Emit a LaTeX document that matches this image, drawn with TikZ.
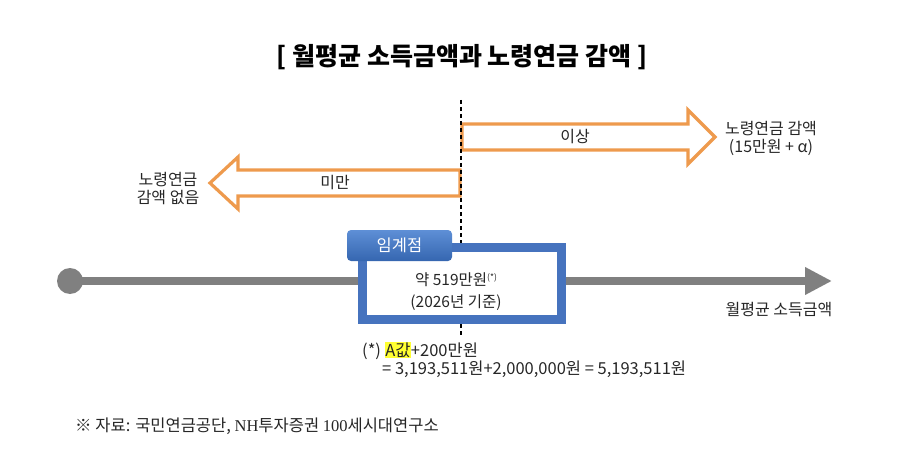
\documentclass[tikz,border=0pt]{standalone}
\usepackage{fontspec}
\usetikzlibrary{arrows.meta}
\newfontfamily\kr{Noto Sans CJK KR}
\newfontfamily\lserif{Liberation Serif}
\definecolor{orng}{HTML}{EE9A4D}
\definecolor{bluebox}{HTML}{4673BE}
\definecolor{tabtop}{HTML}{5E8FD6}
\definecolor{tabbot}{HTML}{3566B0}
\definecolor{axisgray}{HTML}{808080}
\definecolor{hl}{HTML}{FFFF33}
\tikzset{
  lbl/.style={font=\kr\fontsize{16}{18}\selectfont, text=black!85, inner sep=0pt, align=center},
  oarrow/.style={draw=orng, line width=3.2pt, fill=white, line join=miter},
  note/.style={font=\kr\fontsize{16.5}{18}\selectfont, text=black!85, inner sep=0pt, anchor=west}
}
\begin{document}
\begin{tikzpicture}[x=1pt,y=-1pt]
\useasboundingbox (0,0) rectangle (900,468);
% title
\node[font=\kr\bfseries\fontsize{25}{28}\selectfont, inner sep=0pt] (title) at (462,57) {[ 월평균 소득금액과 노령연금 감액 ]};
% orange arrows
\draw[oarrow] (462,124) -- (688,124) -- (688,110) -- (715,137) -- (688,164) -- (688,150) -- (462,150) -- cycle;
\draw[oarrow] (460,170) -- (238,170) -- (238,157) -- (210,183) -- (238,209) -- (238,196) -- (460,196) -- cycle;
\node[lbl] (up) at (575,137) {이상};
\node[lbl] (down) at (335,183) {미만};
\node[lbl] (lefttxt) at (168,189) {노령연금\\감액 없음};
\node[lbl] (righttxt) at (771,138) {노령연금 감액\\(15만원 + α)};
% dashed line
\coordinate (dtop) at (461,100);
\coordinate (dbot) at (461,336);
\draw[black, line width=1.4pt, dash pattern=on 4pt off 3pt] (dtop) -- (dbot);
% axis
\node[circle, fill=axisgray, minimum size=26pt, inner sep=0pt] (start) at (70,281) {};
\coordinate (axend) at (832,281);
\draw[axisgray, line width=8pt, -{Triangle[length=27pt,width=26pt]}] (start.center) -- (axend);
% blue box
\node[draw=bluebox, line width=9pt, fill=white, minimum width=199pt, minimum height=72pt, inner sep=0pt] (box) at (462,283.5) {};
\node[font=\kr\fontsize{15.5}{18}\selectfont, text=black!85, inner sep=0pt] (val) at (456,280) {약 519만원\raisebox{5pt}{\fontsize{8.5}{8.5}\selectfont(*)}};
\node[font=\kr\fontsize{15.5}{18}\selectfont, text=black!85, inner sep=0pt] (base) at (456,303) {(2026년 기준)};
\node[rounded corners=4pt, top color=tabtop, bottom color=tabbot, minimum width=105pt, minimum height=31pt, inner sep=0pt, font=\kr\fontsize{16.5}{18}\selectfont, text=white] (tab) at (399.5,245.5) {임계점};
\node[lbl] (axlbl) at (779,310) {월평균 소득금액};
% footnote
\node[note] (fn1) at (362,351) {(*) {\setlength{\fboxsep}{0.5pt}\colorbox{hl}{A값}}+200만원};
\node[note] (fn2) at (382,369) {= 3,193,511원+2,000,000원 = 5,193,511원};
% source
\node[note, font=\fontsize{16.5}{18}\selectfont] (src) at (75,426) {{\kr ※ 자료: 국민연금공단, }{\lserif NH}{\kr 투자증권 }{\lserif 100}{\kr 세시대연구소}};
\end{tikzpicture}
\end{document}
